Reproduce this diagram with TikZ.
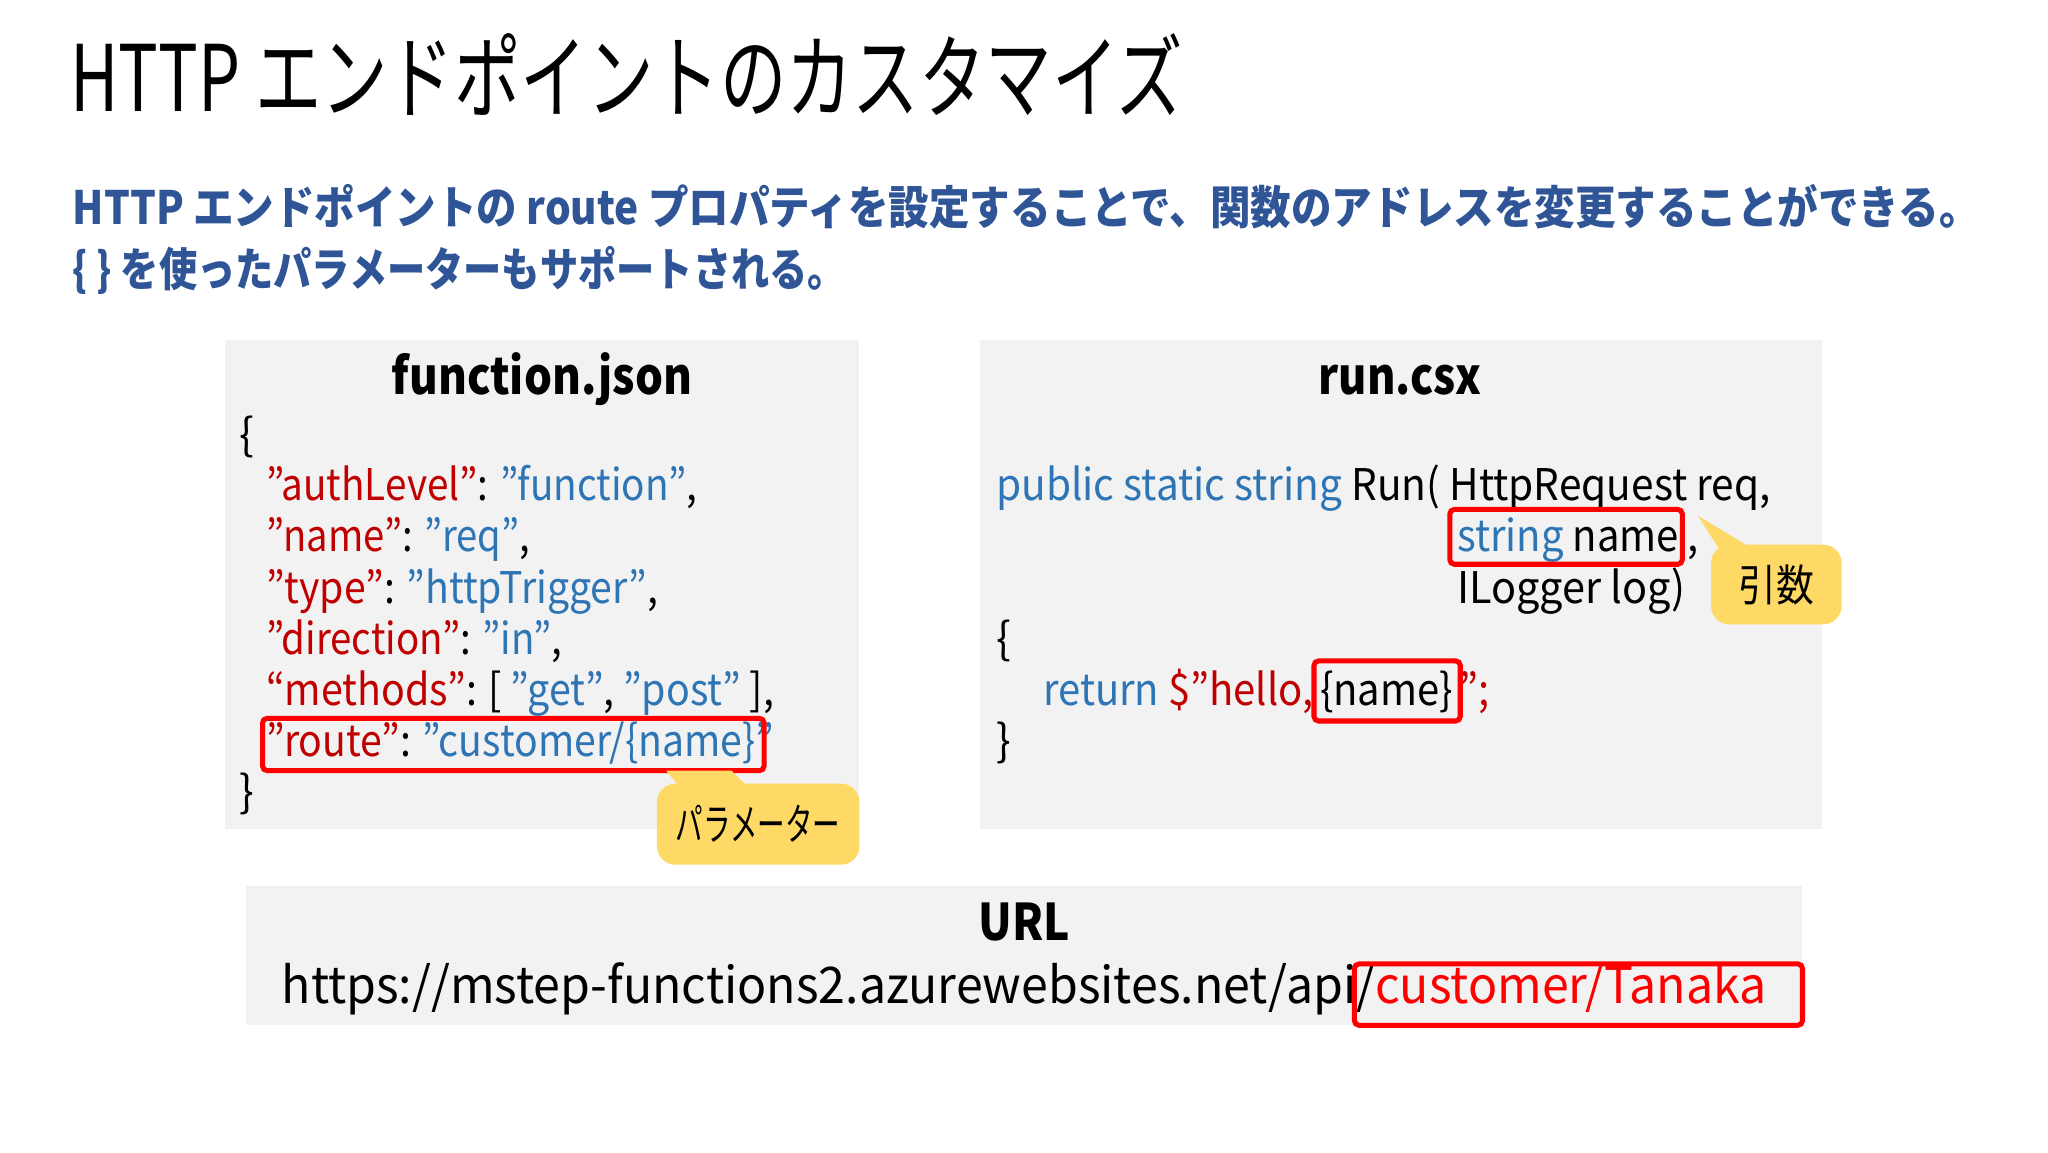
\documentclass[tikz,border=0pt]{standalone}
\usepackage{fontspec}
\usepackage{graphicx}
\setmainfont{Noto Sans CJK JP}
\newcommand\qq{\symbol{34}}
\newcommand\fitw[2]{\resizebox{#1cm}{\height}{#2}}
\definecolor{sub}{HTML}{2F5597}
\definecolor{cblue}{HTML}{2E75B6}
\definecolor{cred}{HTML}{C00000}
\definecolor{boxbg}{HTML}{F2F2F2}
\definecolor{callout}{HTML}{FFD966}
\definecolor{hl}{HTML}{FF0000}
\tikzset{
  panel/.style={fill=boxbg,draw=none},
  code/.style={anchor=base west,inner sep=0pt,font=\fontsize{9.5}{11}\selectfont},
  head/.style={anchor=base,inner sep=0pt,font=\fontsize{11}{13}\selectfont\bfseries},
  hlbox/.style={draw=hl,line width=1.1pt,rounded corners=1pt},
  callbox/.style={fill=callout,rounded corners=4pt},
}
\begin{document}
\begin{tikzpicture}
\useasboundingbox (0,0) rectangle (15.68,8.82);
\fill[white] (0,0) rectangle (15.68,8.82);
% title
\node (title) [anchor=base west,inner sep=0pt,font=\fontsize{20}{24}\selectfont] at (0.53,7.97) {\fitw{8.52}{HTTP エンドポイントのカスタマイズ}};
\node (sub1) [anchor=base west,inner sep=0pt,text=sub,font=\fontsize{10}{12}\selectfont\bfseries] at (0.55,7.10) {\fitw{14.60}{HTTP エンドポイントの route プロパティを設定することで、関数のアドレスを変更することができる。}};
\node (sub2) [anchor=base west,inner sep=0pt,text=sub,font=\fontsize{10}{12}\selectfont\bfseries] at (0.55,6.63) {\fitw{5.92}{\{ \} を使ったパラメーターもサポートされる。}};
% panels
\fill[panel] (1.72,2.47) rectangle (6.58,6.22);
\fill[panel] (7.50,2.47) rectangle (13.95,6.22);
\fill[panel] (1.88,0.97) rectangle (13.80,2.04);
% function.json
\node (fjh) [head] at (4.15,5.80) {\fitw{2.30}{function.json}};
\node (f0) [code] at (1.83,5.37) {\{};
\node (f1) [code] at (2.03,4.99) {\fitw{3.30}{\textcolor{cred}{\qq authLevel\qq}: \textcolor{cblue}{\qq function\qq},}};
\node (f2) [code] at (2.03,4.60) {\fitw{2.02}{\textcolor{cred}{\qq name\qq}: \textcolor{cblue}{\qq req\qq},}};
\node (f3) [code] at (2.03,4.20) {\fitw{3.00}{\textcolor{cred}{\qq type\qq}: \textcolor{cblue}{\qq httpTrigger\qq},}};
\node (f4) [code] at (2.03,3.81) {\fitw{2.27}{\textcolor{cred}{\qq direction\qq}: \textcolor{cblue}{\qq in\qq},}};
\node (f5) [code] at (2.03,3.42) {\fitw{3.89}{\textcolor{cred}{“methods”}: [ \textcolor{cblue}{\qq get\qq}, \textcolor{cblue}{\qq post\qq} ],}};
\node (f6) [code] at (2.03,3.03) {\fitw{3.89}{\textcolor{cred}{\qq route\qq}: \textcolor{cblue}{\qq customer/\{name\}\qq}}};
\node (f7) [code] at (1.83,2.64) {\}};
\draw[hlbox] (2.01,2.92) rectangle (5.85,3.32);
% callout parameter
\fill[callout] (5.10,2.92) -- (5.60,2.92) -- (5.90,2.62) -- (5.35,2.62) -- cycle;
\node (c1) [callbox,minimum width=1.55cm,minimum height=0.62cm,font=\fontsize{9.5}{11}\selectfont] at (5.805,2.51) {\fitw{1.26}{パラメーター}};
% run.csx
\node (rh) [head] at (10.72,5.80) {\fitw{1.25}{run.csx}};
\node (r1) [code] at (7.62,4.99) {\fitw{5.93}{\textcolor{cblue}{public static string} Run( HttpRequest req,}};
\node (r2) [code] at (11.15,4.60) {\fitw{1.85}{\textcolor{cblue}{string} name ,}};
\node (r3) [code] at (11.15,4.20) {\fitw{1.75}{ILogger log)}};
\node (r4) [code] at (7.62,3.81) {\{};
\node (r5) [code] at (7.98,3.42) {\fitw{3.42}{\textcolor{cblue}{return} \textcolor{cred}{\$\qq hello,}\,\{name\}\,\textcolor{cred}{\qq;}}};
\node (r6) [code] at (7.62,3.03) {\}};
\draw[hlbox] (11.10,4.50) rectangle (12.88,4.92);
\draw[hlbox] (10.06,3.30) rectangle (11.18,3.76);
% callout arg
\fill[callout] (13.00,4.87) -- (13.45,4.60) -- (13.30,4.40) -- cycle;
\node (c2) [callbox,minimum width=1.00cm,minimum height=0.61cm,font=\fontsize{9.5}{11}\selectfont] at (13.60,4.345) {\fitw{0.58}{引数}};
% URL
\node (uh) [head] at (7.84,1.62) {\fitw{0.70}{URL}};
\node (u1) [anchor=base west,inner sep=0pt,font=\fontsize{11}{13}\selectfont] at (2.15,1.14) {\fitw{11.37}{https://mstep-functions2.azurewebsites.net/api/\textcolor{hl}{customer/Tanaka}}};
\draw[hlbox] (10.37,0.97) rectangle (13.80,1.44);
\end{tikzpicture}
\end{document}
